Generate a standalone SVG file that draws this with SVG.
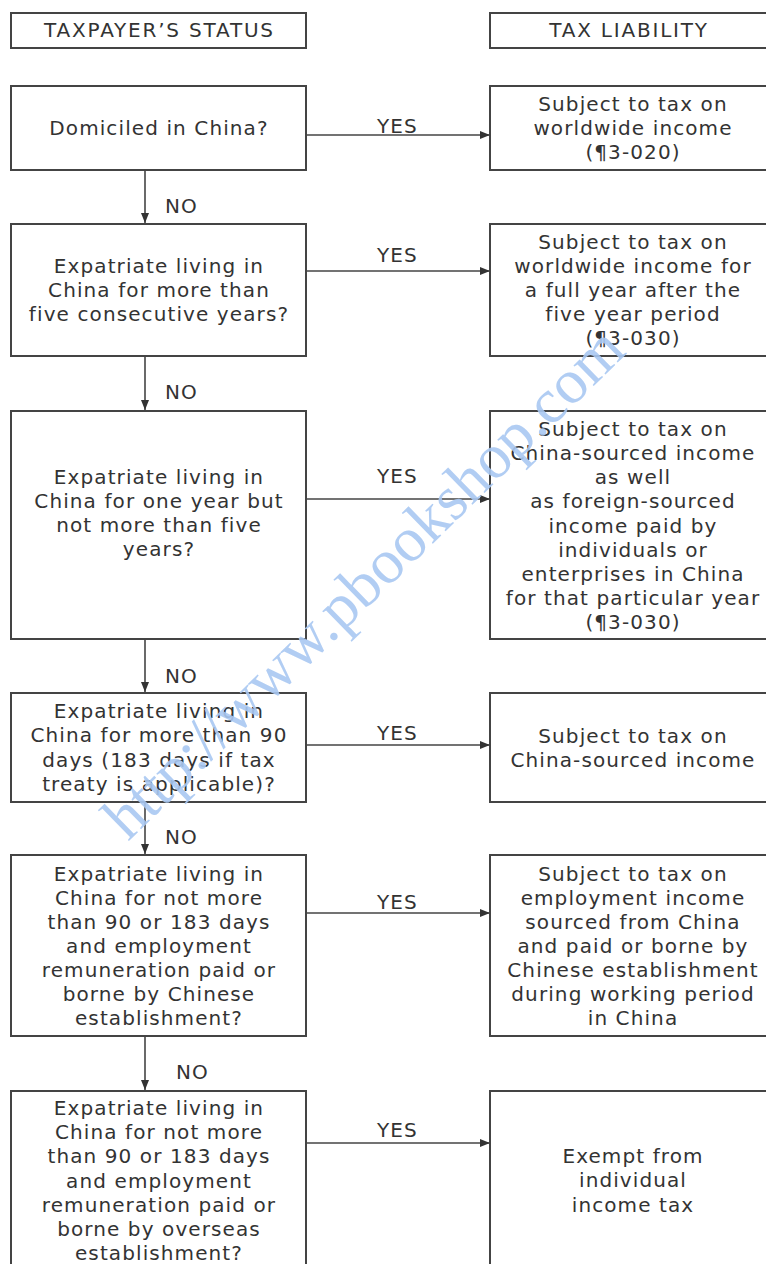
<svg xmlns="http://www.w3.org/2000/svg" width="766" height="1264" viewBox="0 0 766 1264">
<defs>
<marker id="ah" viewBox="0 0 10 10" refX="10" refY="5" markerWidth="10" markerHeight="10" markerUnits="userSpaceOnUse" orient="auto">
<path d="M0,1 L10,5 L0,9 z" fill="#333"/>
</marker>
<style>
.box{fill:#fff;stroke:#444;stroke-width:2}
.t{font-family:"DejaVu Sans",Verdana,sans-serif;font-size:20px;letter-spacing:1.1px;fill:#333;text-anchor:middle}
.h{letter-spacing:1.8px}
.lbl{font-family:"DejaVu Sans",Verdana,sans-serif;font-size:20px;letter-spacing:1.1px;fill:#333}
.c{stroke:#444;stroke-width:1.6;fill:none}
.wm{font-family:"Liberation Serif","Times New Roman",serif;font-size:63px;fill:#a9c8f2;fill-opacity:0.9}
</style>
</defs>
<rect width="766" height="1264" fill="#fff"/>

<g id="hdr-status"><rect class="box" x="11" y="13" width="295" height="35"/><text class="t h" x="159.5" y="37">TAXPAYER’S STATUS</text></g>
<g id="hdr-liability"><rect class="box" x="490" y="13" width="290" height="35"/><text class="t h" x="629" y="37">TAX LIABILITY</text></g>

<g id="q1"><rect class="box" x="11" y="86" width="295" height="84"/><text class="t" x="159" y="135">Domiciled in China?</text></g>
<g id="a1"><rect class="box" x="490" y="86" width="290" height="84"/>
<text class="t" x="633" y="111">Subject to tax on</text>
<text class="t" x="633" y="135">worldwide income</text>
<text class="t" x="633" y="159">(¶3-020)</text></g>

<g id="q2"><rect class="box" x="11" y="224" width="295" height="132"/>
<text class="t" x="159" y="273">Expatriate living in</text>
<text class="t" x="159" y="297">China for more than</text>
<text class="t" x="159" y="321">five consecutive years?</text></g>
<g id="a2"><rect class="box" x="490" y="224" width="290" height="132"/>
<text class="t" x="633" y="249">Subject to tax on</text>
<text class="t" x="633" y="273">worldwide income for</text>
<text class="t" x="633" y="297">a full year after the</text>
<text class="t" x="633" y="321">five year period</text>
<text class="t" x="633" y="345">(¶3-030)</text></g>

<g id="q3"><rect class="box" x="11" y="411" width="295" height="228"/>
<text class="t" x="159" y="484">Expatriate living in</text>
<text class="t" x="159" y="508">China for one year but</text>
<text class="t" x="159" y="532">not more than five</text>
<text class="t" x="159" y="556">years?</text></g>
<g id="a3"><rect class="box" x="490" y="411" width="290" height="228"/>
<text class="t" x="633" y="436">Subject to tax on</text>
<text class="t" x="633" y="460">China-sourced income</text>
<text class="t" x="633" y="484">as well</text>
<text class="t" x="633" y="508">as foreign-sourced</text>
<text class="t" x="633" y="533">income paid by</text>
<text class="t" x="633" y="557">individuals or</text>
<text class="t" x="633" y="581">enterprises in China</text>
<text class="t" x="633" y="605">for that particular year</text>
<text class="t" x="633" y="629">(¶3-030)</text></g>

<g id="q4"><rect class="box" x="11" y="693" width="295" height="109"/>
<text class="t" x="159" y="718">Expatriate living in</text>
<text class="t" x="159" y="742">China for more than 90</text>
<text class="t" x="159" y="767">days (183 days if tax</text>
<text class="t" x="159" y="791">treaty is applicable)?</text></g>
<g id="a4"><rect class="box" x="490" y="693" width="290" height="109"/>
<text class="t" x="633" y="743">Subject to tax on</text>
<text class="t" x="633" y="767">China-sourced income</text></g>

<g id="q5"><rect class="box" x="11" y="855" width="295" height="181"/>
<text class="t" x="159" y="881">Expatriate living in</text>
<text class="t" x="159" y="905">China for not more</text>
<text class="t" x="159" y="929">than 90 or 183 days</text>
<text class="t" x="159" y="953">and employment</text>
<text class="t" x="159" y="977">remuneration paid or</text>
<text class="t" x="159" y="1001">borne by Chinese</text>
<text class="t" x="159" y="1025">establishment?</text></g>
<g id="a5"><rect class="box" x="490" y="855" width="290" height="181"/>
<text class="t" x="633" y="881">Subject to tax on</text>
<text class="t" x="633" y="905">employment income</text>
<text class="t" x="633" y="929">sourced from China</text>
<text class="t" x="633" y="953">and paid or borne by</text>
<text class="t" x="633" y="977">Chinese establishment</text>
<text class="t" x="633" y="1001">during working period</text>
<text class="t" x="633" y="1025">in China</text></g>

<g id="q6"><rect class="box" x="11" y="1091" width="295" height="200"/>
<text class="t" x="159" y="1115">Expatriate living in</text>
<text class="t" x="159" y="1139">China for not more</text>
<text class="t" x="159" y="1163">than 90 or 183 days</text>
<text class="t" x="159" y="1188">and employment</text>
<text class="t" x="159" y="1212">remuneration paid or</text>
<text class="t" x="159" y="1236">borne by overseas</text>
<text class="t" x="159" y="1260">establishment?</text></g>
<g id="a6"><rect class="box" x="490" y="1091" width="290" height="200"/>
<text class="t" x="633" y="1163">Exempt from</text>
<text class="t" x="633" y="1187">individual</text>
<text class="t" x="633" y="1212">income tax</text></g>

<g id="connectors">
<line class="c" x1="306" y1="135" x2="490" y2="135" marker-end="url(#ah)"/>
<line class="c" x1="306" y1="271" x2="490" y2="271" marker-end="url(#ah)"/>
<line class="c" x1="306" y1="499" x2="490" y2="499" marker-end="url(#ah)"/>
<line class="c" x1="306" y1="745" x2="490" y2="745" marker-end="url(#ah)"/>
<line class="c" x1="306" y1="913" x2="490" y2="913" marker-end="url(#ah)"/>
<line class="c" x1="306" y1="1143" x2="490" y2="1143" marker-end="url(#ah)"/>
<line class="c" x1="145" y1="170" x2="145" y2="223" marker-end="url(#ah)"/>
<line class="c" x1="145" y1="356" x2="145" y2="410" marker-end="url(#ah)"/>
<line class="c" x1="145" y1="639" x2="145" y2="692" marker-end="url(#ah)"/>
<line class="c" x1="145" y1="802" x2="145" y2="854" marker-end="url(#ah)"/>
<line class="c" x1="145" y1="1036" x2="145" y2="1090" marker-end="url(#ah)"/>
<text class="lbl" x="377" y="133">YES</text>
<text class="lbl" x="377" y="262">YES</text>
<text class="lbl" x="377" y="483">YES</text>
<text class="lbl" x="377" y="740">YES</text>
<text class="lbl" x="377" y="909">YES</text>
<text class="lbl" x="377" y="1137">YES</text>
<text class="lbl" x="165" y="213">NO</text>
<text class="lbl" x="165" y="399">NO</text>
<text class="lbl" x="165" y="683">NO</text>
<text class="lbl" x="165" y="844">NO</text>
<text class="lbl" x="176" y="1079">NO</text>
</g>

<text class="wm" transform="translate(128,842) rotate(-44.4)">http://www.pbookshop.com</text>
</svg>
